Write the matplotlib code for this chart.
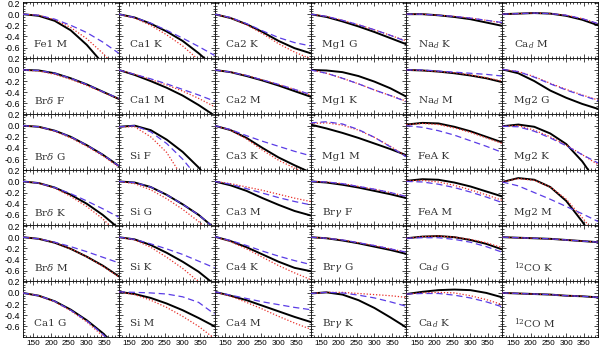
import numpy as np
import matplotlib
matplotlib.use("Agg")
from matplotlib import pyplot as plt
from matplotlib.ticker import MultipleLocator

plt.rcParams['mathtext.fontset'] = 'dejavuserif'
plt.rcParams['font.family'] = ['Liberation Sans', 'DejaVu Sans']

# velocity dispersion grid where curves were read
sigma = [120, 165, 210, 255, 300, 345, 390]

# panel labels, row by row
labels = [
    ["Fe1 M", "Ca1 K", "Ca2 K", "Mg1 G", "Na$_d$ K", "Ca$_d$ M"],
    ["Br$\\delta$ F", "Ca1 M", "Ca2 M", "Mg1 K", "Na$_d$ M", "Mg2 G"],
    ["Br$\\delta$ G", "Si F", "Ca3 K", "Mg1 M", "FeA K", "Mg2 K"],
    ["Br$\\delta$ K", "Si G", "Ca3 M", "Br$\\gamma$ F", "FeA M", "Mg2 M"],
    ["Br$\\delta$ M", "Si K", "Ca4 K", "Br$\\gamma$ G", "Ca$_d$ G", "$^{12}$CO K"],
    ["Ca1 G", "Si M", "Ca4 M", "Br$\\gamma$ K", "Ca$_d$ K", "$^{12}$CO M"],
]

# black solid curves
black = [
    [[0, -0.03, -0.12, -0.29, -0.55, -0.88, -1.25],
     [0, -0.06, -0.17, -0.31, -0.48, -0.70, -0.95],
     [0, -0.07, -0.18, -0.32, -0.48, -0.61, -0.70],
     [0, -0.05, -0.13, -0.22, -0.32, -0.43, -0.54],
     [0, 0.0, -0.02, -0.05, -0.09, -0.15, -0.21],
     [0, 0.01, 0.02, 0.01, -0.03, -0.10, -0.20]],
    [[0, -0.01, -0.06, -0.15, -0.26, -0.39, -0.52],
     [0, -0.09, -0.20, -0.32, -0.46, -0.63, -0.82],
     [0, -0.04, -0.11, -0.19, -0.28, -0.38, -0.48],
     [0, -0.01, -0.04, -0.11, -0.21, -0.33, -0.48],
     [0, -0.01, -0.03, -0.06, -0.10, -0.15, -0.22],
     [0.01, -0.06, -0.20, -0.37, -0.50, -0.61, -0.70]],
    [[0, -0.02, -0.09, -0.20, -0.35, -0.52, -0.72],
     [-0.02, 0.0, -0.08, -0.25, -0.47, -0.75, -1.1],
     [0, -0.08, -0.22, -0.40, -0.57, -0.71, -0.84],
     [0.02, -0.05, -0.13, -0.22, -0.32, -0.42, -0.53],
     [0.02, 0.05, 0.04, -0.02, -0.10, -0.20, -0.30],
     [-0.01, 0.02, -0.02, -0.14, -0.33, -0.64, -1.05]],
    [[0, -0.03, -0.11, -0.24, -0.40, -0.60, -0.84],
     [0, -0.02, -0.10, -0.24, -0.41, -0.60, -0.84],
     [0, -0.07, -0.17, -0.30, -0.42, -0.53, -0.61],
     [0, -0.02, -0.06, -0.11, -0.17, -0.23, -0.30],
     [0.01, 0.04, 0.03, -0.02, -0.09, -0.18, -0.27],
     [-0.01, 0.06, 0.03, -0.10, -0.35, -0.72, -1.15]],
    [[0, -0.03, -0.10, -0.21, -0.35, -0.51, -0.70],
     [0, -0.04, -0.14, -0.28, -0.44, -0.62, -0.85],
     [0.01, -0.07, -0.18, -0.31, -0.44, -0.55, -0.61],
     [0, -0.02, -0.06, -0.11, -0.17, -0.23, -0.30],
     [-0.02, 0.01, 0.02, 0.0, -0.05, -0.12, -0.22],
     [0, -0.01, -0.02, -0.03, -0.05, -0.07, -0.09]],
    [[0, -0.05, -0.15, -0.30, -0.49, -0.72, -1.0],
     [0.02, -0.02, -0.09, -0.19, -0.31, -0.45, -0.60],
     [0.02, -0.05, -0.13, -0.23, -0.33, -0.43, -0.52],
     [-0.01, 0.01, -0.03, -0.13, -0.27, -0.44, -0.62],
     [-0.02, 0.02, 0.05, 0.06, 0.05, 0.0, -0.08],
     [0, -0.01, -0.02, -0.03, -0.05, -0.06, -0.08]],
]

# red dotted curves
red = [
    [[0, -0.02, -0.10, -0.24, -0.44, -0.70, -1.0],
     [0, -0.07, -0.20, -0.37, -0.57, -0.82, -1.1],
     [0, -0.07, -0.19, -0.35, -0.53, -0.68, -0.80],
     [0, -0.04, -0.11, -0.19, -0.28, -0.38, -0.48],
     [0, 0.0, -0.02, -0.04, -0.07, -0.11, -0.16],
     [0, 0.01, 0.02, 0.01, -0.02, -0.08, -0.17]],
    [[0, -0.02, -0.08, -0.17, -0.28, -0.40, -0.52],
     [0, -0.08, -0.17, -0.27, -0.38, -0.51, -0.66],
     [0, -0.04, -0.10, -0.18, -0.26, -0.35, -0.45],
     [0, -0.06, -0.15, -0.25, -0.36, -0.46, -0.56],
     [0, -0.01, -0.03, -0.05, -0.09, -0.14, -0.20],
     [0.01, -0.03, -0.12, -0.24, -0.35, -0.45, -0.54]],
    [[0, -0.02, -0.10, -0.22, -0.37, -0.54, -0.74],
     [-0.02, -0.02, -0.20, -0.48, -0.93, -1.3, -1.8],
     [0, -0.08, -0.24, -0.44, -0.62, -0.76, -0.88],
     [0.04, 0.05, 0.01, -0.08, -0.21, -0.37, -0.55],
     [0.02, 0.04, 0.02, -0.04, -0.12, -0.22, -0.32],
     [-0.01, 0.0, -0.08, -0.20, -0.35, -0.52, -0.70]],
    [[0, -0.03, -0.12, -0.27, -0.45, -0.67, -0.95],
     [0, -0.04, -0.15, -0.31, -0.50, -0.72, -0.98],
     [0, -0.04, -0.10, -0.16, -0.23, -0.30, -0.36],
     [0, -0.01, -0.04, -0.09, -0.14, -0.20, -0.27],
     [0.01, 0.02, -0.01, -0.07, -0.15, -0.24, -0.34],
     [-0.01, 0.05, 0.02, -0.10, -0.32, -0.65, -1.0]],
    [[0, -0.03, -0.10, -0.21, -0.35, -0.52, -0.71],
     [0, -0.05, -0.18, -0.36, -0.56, -0.80, -1.05],
     [0.01, -0.08, -0.21, -0.36, -0.51, -0.64, -0.76],
     [0, -0.02, -0.05, -0.10, -0.15, -0.21, -0.27],
     [-0.02, 0.01, 0.02, 0.0, -0.04, -0.10, -0.19],
     [0, -0.01, -0.02, -0.03, -0.05, -0.07, -0.09]],
    [[0, -0.05, -0.16, -0.32, -0.52, -0.77, -1.05],
     [0.02, -0.03, -0.13, -0.26, -0.42, -0.60, -0.82],
     [0.02, -0.06, -0.17, -0.29, -0.42, -0.54, -0.65],
     [-0.01, 0.01, 0.01, -0.01, -0.03, -0.05, -0.08],
     [-0.02, 0.0, 0.01, 0.0, -0.05, -0.12, -0.21],
     [0, -0.01, -0.02, -0.03, -0.05, -0.06, -0.08]],
]

# blue dashed curves
blue = [
    [[0, -0.02, -0.09, -0.20, -0.33, -0.50, -0.70],
     [0, -0.06, -0.16, -0.29, -0.43, -0.58, -0.74],
     [0, -0.06, -0.17, -0.30, -0.42, -0.51, -0.57],
     [0, -0.04, -0.11, -0.19, -0.28, -0.38, -0.49],
     [0, 0.0, -0.02, -0.04, -0.07, -0.11, -0.15],
     [0, 0.01, 0.02, 0.01, -0.02, -0.08, -0.17]],
    [[0, -0.01, -0.06, -0.15, -0.26, -0.39, -0.51],
     [0, -0.08, -0.16, -0.25, -0.35, -0.45, -0.56],
     [0, -0.04, -0.10, -0.18, -0.26, -0.35, -0.44],
     [0, -0.06, -0.15, -0.25, -0.36, -0.46, -0.57],
     [0, 0.0, -0.02, -0.04, -0.06, -0.08, -0.11],
     [0.01, -0.03, -0.13, -0.25, -0.36, -0.46, -0.55]],
    [[0, -0.02, -0.09, -0.20, -0.35, -0.52, -0.72],
     [-0.02, 0.0, -0.11, -0.32, -0.60, -0.95, -1.3],
     [0, -0.07, -0.18, -0.28, -0.37, -0.46, -0.54],
     [0.05, 0.07, 0.03, -0.07, -0.21, -0.38, -0.56],
     [0.0, -0.03, -0.09, -0.17, -0.27, -0.37, -0.48],
     [-0.01, -0.02, -0.10, -0.22, -0.36, -0.52, -0.67]],
    [[0, -0.03, -0.11, -0.22, -0.35, -0.49, -0.64],
     [0, -0.02, -0.10, -0.24, -0.41, -0.60, -0.84],
     [0, -0.05, -0.13, -0.21, -0.29, -0.36, -0.42],
     [0, -0.01, -0.04, -0.09, -0.14, -0.20, -0.27],
     [0.0, -0.01, -0.05, -0.11, -0.19, -0.28, -0.38],
     [-0.01, -0.08, -0.20, -0.32, -0.45, -0.58, -0.72]],
    [[0, -0.03, -0.09, -0.17, -0.26, -0.36, -0.46],
     [0, -0.04, -0.12, -0.21, -0.31, -0.43, -0.55],
     [0.01, -0.06, -0.15, -0.25, -0.34, -0.42, -0.49],
     [0, -0.02, -0.05, -0.10, -0.15, -0.21, -0.27],
     [-0.02, -0.01, -0.01, -0.04, -0.09, -0.17, -0.27],
     [0, -0.01, -0.02, -0.03, -0.05, -0.07, -0.09]],
    [[0, -0.05, -0.15, -0.31, -0.50, -0.74, -1.02],
     [0.02, 0.01, 0.0, -0.02, -0.07, -0.17, -0.38],
     [0.02, -0.04, -0.10, -0.16, -0.21, -0.26, -0.30],
     [-0.01, 0.01, 0.0, -0.04, -0.09, -0.16, -0.24],
     [-0.02, -0.01, -0.01, -0.04, -0.09, -0.16, -0.25],
     [0, -0.01, -0.02, -0.03, -0.05, -0.06, -0.08]],
]

fig, axes = plt.subplots(6, 6, figsize=(6.0, 3.51), dpi=100, sharex=True, sharey=True)
fig.subplots_adjust(left=0.038, right=0.997, top=0.993, bottom=0.04, wspace=0, hspace=0)

for i in range(6):
    for j in range(6):
        ax = axes[i, j]
        ax.plot(sigma, black[i][j], color='black', lw=1.4, zorder=3)
        ax.plot(sigma, red[i][j], color='#e8302a', lw=0.9, ls=(0, (1, 1.5)), zorder=4)
        ax.plot(sigma, blue[i][j], color='#5a3ce6', lw=0.9, ls=(0, (5, 3)), zorder=5)
        ax.text(0.12, 0.24, labels[i][j], transform=ax.transAxes, fontsize=7.5,
                family='DejaVu Serif', va='center', ha='left', color='#333333')
        ax.set_xlim(120, 390)
        ax.set_ylim(-0.79, 0.21)
        ax.xaxis.set_major_locator(MultipleLocator(50))
        ax.xaxis.set_minor_locator(MultipleLocator(10))
        ax.yaxis.set_major_locator(MultipleLocator(0.2))
        ax.yaxis.set_minor_locator(MultipleLocator(0.05))
        ax.tick_params(which='both', direction='in', top=True, right=True,
                       width=0.5, pad=2)
        ax.tick_params(axis='x', labelsize=5.9)
        ax.tick_params(axis='y', labelsize=6.4)
        ax.tick_params(which='major', length=3)
        ax.tick_params(which='minor', length=1.5)
        for s in ax.spines.values():
            s.set_linewidth(0.6)

axes[0, 0].set_xticks([150, 200, 250, 300, 350])
axes[0, 0].set_yticks([-0.6, -0.4, -0.2, 0.0, 0.2])
axes[0, 0].yaxis.set_major_formatter(plt.FuncFormatter(lambda v, p: "%.1f" % v if abs(v) > 1e-9 else "0.0"))

fig.savefig("out.png", dpi=100)
